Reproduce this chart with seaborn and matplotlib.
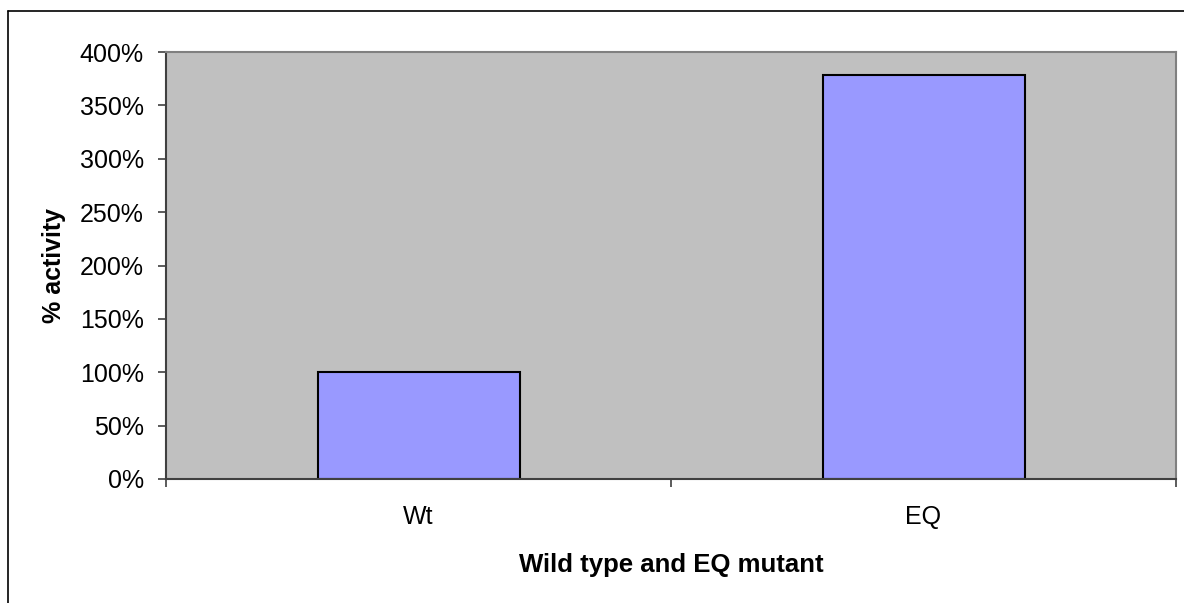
import matplotlib
matplotlib.use("Agg")
import matplotlib.pyplot as plt
import seaborn as sns
import pandas as pd
from matplotlib.lines import Line2D
from matplotlib.ticker import PercentFormatter

categories = ["Wt", "EQ"]
activity = [1.00, 3.78]
y_ticks = [0, 0.5, 1.0, 1.5, 2.0, 2.5, 3.0, 3.5, 4.0]

sns.set_style("white")
plt.rcParams['font.family'] = ['Liberation Sans', 'DejaVu Sans']
plt.rcParams['text.color'] = 'black'
plt.rcParams['axes.labelcolor'] = 'black'
plt.rcParams['xtick.color'] = 'black'
plt.rcParams['ytick.color'] = 'black'

df = pd.DataFrame({"cat": categories, "val": activity})

fig = plt.figure(figsize=(11.84, 6.03), dpi=100)
ax = fig.add_axes([166/1184, 1-479/603, (1176-166)/1184, (479-52)/603])
ax.set_facecolor("#C0C0C0")
sns.barplot(data=df, x="cat", y="val", ax=ax, color="#9999FF", width=0.4,
            edgecolor="black", linewidth=1.5, saturation=1)
ax.set_xlim(-0.5, 1.5)
ax.set_ylim(0, 4.0)
ax.set_yticks(y_ticks)
ax.yaxis.set_major_formatter(PercentFormatter(1.0, decimals=0))
ax.set_xticks([0, 1])
ax.set_xticklabels(categories)
ax.set_xticks([-0.5, 0.5, 1.5], minor=True)
ax.tick_params(axis='x', which='major', bottom=True, length=0, pad=19, labelsize=18, labelcolor='black')
ax.tick_params(axis='x', which='minor', bottom=True, length=6, width=1.2, color='#404040', direction='out')
ax.tick_params(axis='y', left=True, length=6, width=1.2, color='#404040', direction='out',
               labelsize=18, pad=10, labelcolor='black')
for s in ['left', 'bottom']:
    ax.spines[s].set_color('#404040')
    ax.spines[s].set_linewidth(1.5)
for s in ['top', 'right']:
    ax.spines[s].set_color('#808080')
    ax.spines[s].set_linewidth(1.5)
ax.set_xlabel("Wild type and EQ mutant", fontsize=18.5, fontweight='bold', labelpad=17, color='black')
ax.set_ylabel("% activity", fontsize=18, fontweight='bold', labelpad=10, color='black')

x0 = 8/1184
y0 = 1-11/603
fig.add_artist(Line2D([x0, x0], [0, y0], transform=fig.transFigure, color='black', lw=1.2))
fig.add_artist(Line2D([x0, 1], [y0, y0], transform=fig.transFigure, color='black', lw=1.2))

fig.savefig("out.png", dpi=100)
